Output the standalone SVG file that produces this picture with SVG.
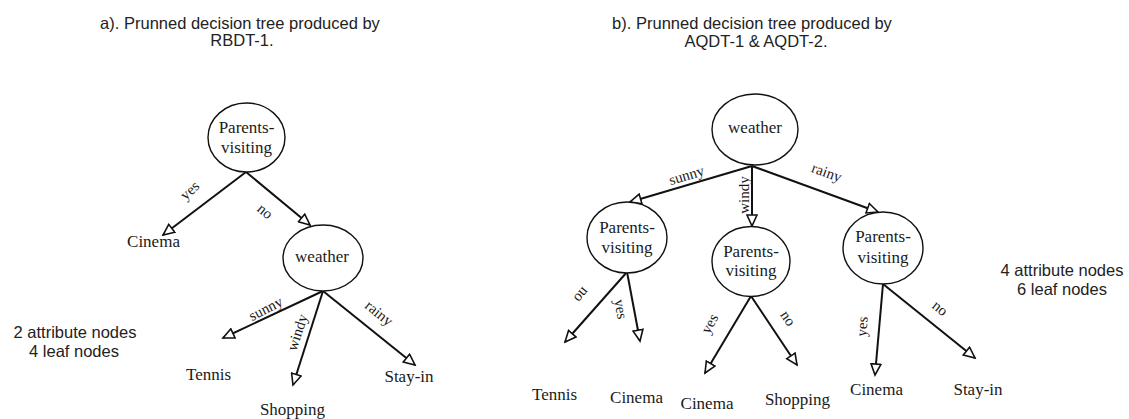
<svg xmlns="http://www.w3.org/2000/svg" width="1129" height="419" viewBox="0 0 1129 419">
  <defs>
    <marker id="open-arrow" markerUnits="userSpaceOnUse" markerWidth="14" markerHeight="12" refX="11" refY="5" orient="auto" viewBox="-1 -1 14 12">
      <path d="M0,0 L11,5 L0,10 Z" fill="#fff" stroke="#111" stroke-width="1.6" stroke-linejoin="miter"/>
    </marker>
  </defs>
  <style>
    .title { font-family: "Liberation Sans", Arial, sans-serif; font-size: 16.5px; fill: #222; text-anchor: middle; }
    .note { font-family: "Liberation Sans", Arial, sans-serif; font-size: 16.5px; fill: #222; text-anchor: middle; }
    .node ellipse { fill: #fff; stroke: #111; stroke-width: 1.4; }
    .node text, .leaf { font-family: "Liberation Serif", "Times New Roman", serif; font-size: 17px; fill: #1a1a1a; text-anchor: middle; }
    .edge { stroke: #111; stroke-width: 2; fill: none; marker-end: url(#open-arrow); }
    .elabel { font-family: "Liberation Serif", "Times New Roman", serif; font-size: 15px; fill: #1a1a1a; text-anchor: middle; }
  </style>
  <rect width="1129" height="419" fill="#fff"/>

  <!-- panel titles -->
  <text class="title" x="240" y="29">a). Prunned decision tree produced by</text>
  <text class="title" x="242" y="46">RBDT-1.</text>
  <text class="title" x="752" y="29">b). Prunned decision tree produced by</text>
  <text class="title" x="756" y="47">AQDT-1 &amp; AQDT-2.</text>

  <!-- summary notes -->
  <text class="note" x="75" y="338">2 attribute nodes</text>
  <text class="note" x="74" y="357">4 leaf nodes</text>
  <text class="note" x="1062" y="276">4 attribute nodes</text>
  <text class="note" x="1062" y="295">6 leaf nodes</text>

  <!-- connectors -->
  <g id="connectors">
    <!-- tree a -->
    <line class="edge" x1="246" y1="172" x2="163" y2="235"/>
    <line class="edge" x1="246" y1="172" x2="310" y2="225"/>
    <line class="edge" x1="323" y1="291" x2="223" y2="338"/>
    <line class="edge" x1="323" y1="291" x2="293" y2="385"/>
    <line class="edge" x1="323" y1="291" x2="415" y2="365"/>
    <!-- tree b -->
    <line class="edge" x1="752" y1="166" x2="630" y2="202"/>
    <line class="edge" x1="752" y1="166" x2="752" y2="226"/>
    <line class="edge" x1="752" y1="166" x2="878" y2="212"/>
    <line class="edge" x1="627" y1="272" x2="565" y2="342"/>
    <line class="edge" x1="627" y1="272" x2="640" y2="341"/>
    <line class="edge" x1="751" y1="296" x2="705" y2="373"/>
    <line class="edge" x1="751" y1="296" x2="797" y2="365"/>
    <line class="edge" x1="883" y1="284" x2="875" y2="375"/>
    <line class="edge" x1="883" y1="284" x2="975" y2="358"/>

    <!-- branch labels, tree a -->
    <text class="elabel" transform="translate(193,194) rotate(-42)">yes</text>
    <text class="elabel" transform="translate(262,215) rotate(40)">no</text>
    <text class="elabel" transform="translate(268,313) rotate(-27)">sunny</text>
    <text class="elabel" transform="translate(302,334) rotate(-72)">windy</text>
    <text class="elabel" transform="translate(376,317) rotate(39)">rainy</text>
    <!-- branch labels, tree b -->
    <text class="elabel" transform="translate(688,180) rotate(-17)">sunny</text>
    <text class="elabel" transform="translate(749,195) rotate(-90)">windy</text>
    <text class="elabel" transform="translate(825,177) rotate(20)">rainy</text>
    <text class="elabel" transform="translate(578,292) rotate(130)">no</text>
    <text class="elabel" transform="translate(616,310) rotate(80)">yes</text>
    <text class="elabel" transform="translate(714,326) rotate(-62)">yes</text>
    <text class="elabel" transform="translate(784,321) rotate(56)">no</text>
    <text class="elabel" transform="translate(867,327) rotate(-85)">yes</text>
    <text class="elabel" transform="translate(937,312) rotate(39)">no</text>
  </g>

  <!-- tree a: attribute nodes -->
  <g id="a-parents-visiting" class="node">
    <ellipse cx="246.5" cy="137.5" rx="38.5" ry="34.5"/>
    <text x="246.5" y="133">Parents-</text>
    <text x="246.5" y="153">visiting</text>
  </g>
  <g id="a-weather" class="node">
    <ellipse cx="323" cy="258" rx="40" ry="33"/>
    <text x="322" y="262">weather</text>
  </g>
  <!-- tree a: leaves -->
  <g id="a-cinema"><text class="leaf" x="153.5" y="247">Cinema</text></g>
  <g id="a-tennis"><text class="leaf" x="208.5" y="380">Tennis</text></g>
  <g id="a-shopping"><text class="leaf" x="292.5" y="415">Shopping</text></g>
  <g id="a-stay-in"><text class="leaf" x="409" y="382">Stay-in</text></g>

  <!-- tree b: attribute nodes -->
  <g id="b-weather" class="node">
    <ellipse cx="755" cy="129.5" rx="43" ry="35.5"/>
    <text x="755" y="133">weather</text>
  </g>
  <g id="b-parents-visiting-1" class="node">
    <ellipse cx="627" cy="237.5" rx="40" ry="35.5"/>
    <text x="627" y="233">Parents-</text>
    <text x="627" y="253">visiting</text>
  </g>
  <g id="b-parents-visiting-2" class="node">
    <ellipse cx="751" cy="261.5" rx="39" ry="35"/>
    <text x="751" y="257">Parents-</text>
    <text x="751" y="276">visiting</text>
  </g>
  <g id="b-parents-visiting-3" class="node">
    <ellipse cx="883" cy="248" rx="40" ry="36"/>
    <text x="883" y="242">Parents-</text>
    <text x="883" y="263">visiting</text>
  </g>
  <!-- tree b: leaves -->
  <g id="b-tennis"><text class="leaf" x="554.5" y="400">Tennis</text></g>
  <g id="b-cinema-1"><text class="leaf" x="636.5" y="403">Cinema</text></g>
  <g id="b-cinema-2"><text class="leaf" x="707" y="409">Cinema</text></g>
  <g id="b-shopping"><text class="leaf" x="797.5" y="405">Shopping</text></g>
  <g id="b-cinema-3"><text class="leaf" x="876.5" y="395">Cinema</text></g>
  <g id="b-stay-in"><text class="leaf" x="978" y="395">Stay-in</text></g>
</svg>
